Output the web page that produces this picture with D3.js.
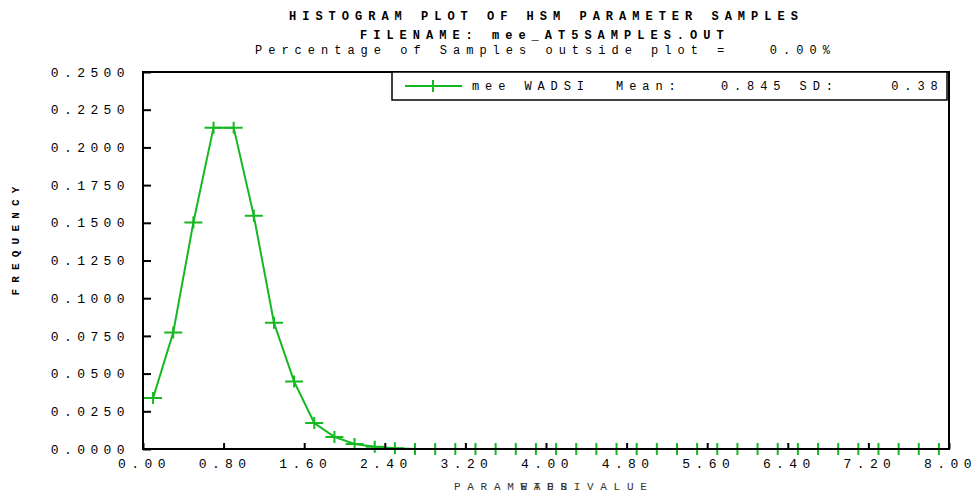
<!DOCTYPE html>
<html>
<head>
<meta charset="utf-8">
<script src="https://cdn.jsdelivr.net/npm/d3@7"></script>
<style>
  body { margin: 0; background: white; }
  svg { display: block; font-family: "Liberation Mono", "DejaVu Sans Mono", monospace; }
</style>
</head>
<body>
<div id="chart"></div>
<script>
// Data (bin centres, width 0.2)
var binCenters = [0.1, 0.3, 0.5, 0.7, 0.9, 1.1, 1.3, 1.5, 1.7, 1.9,
                  2.1, 2.3, 2.5, 2.7, 2.9, 3.1, 3.3, 3.5, 3.7, 3.9,
                  4.1, 4.3, 4.5, 4.7, 4.9, 5.1, 5.3, 5.5, 5.7, 5.9,
                  6.1, 6.3, 6.5, 6.7, 6.9, 7.1, 7.3, 7.5, 7.7, 7.9];
var frequency = [0.0338, 0.0773, 0.1502, 0.2131, 0.2131, 0.1546, 0.0837, 0.0447, 0.0172, 0.0080,
                 0.0033, 0.0015, 0.0005, 0, 0, 0, 0, 0, 0, 0,
                 0, 0, 0, 0, 0, 0, 0, 0, 0, 0,
                 0, 0, 0, 0, 0, 0, 0, 0, 0, 0];
var xTicks = [0, 0.8, 1.6, 2.4, 3.2, 4.0, 4.8, 5.6, 6.4, 7.2, 8.0];
var yTicks = [0, 0.025, 0.05, 0.075, 0.1, 0.125, 0.15, 0.175, 0.2, 0.225, 0.25];
var titleLines = ["HISTOGRAM PLOT OF HSM PARAMETER SAMPLES",
                  "FILENAME: mee_AT5SAMPLES.OUT",
                  "Percentage of Samples outside plot =   0.00%"];
var legendLabel = "mee WADSI  Mean:   0.845 SD:    0.38";

var W = 974, H = 497;
var green = "#16b822";
var plot = {left: 143, right: 949, top: 72, bottom: 449};

var x = d3.scaleLinear().domain([0, 8]).range([plot.left, plot.right]);
var y = d3.scaleLinear().domain([0, 0.25]).range([plot.bottom, plot.top]);

var svg = d3.select("#chart").append("svg")
    .attr("width", W)
    .attr("height", H);

// Titles
var titleY = [20, 39, 54];
var titleX = [289, 360, 255];
titleLines.forEach(function (t, i) {
  svg.append("text")
      .attr("x", titleX[i])
      .attr("y", titleY[i])
      .attr("xml:space", "preserve")
      .style("white-space", "pre")
      .style("font-size", "12px")
      .style("font-weight", i < 2 ? "bold" : "normal")
      .style("letter-spacing", "6px")
      .text(t);
});

// Series line + "+" markers
var line = d3.line()
    .x(function (d, i) { return x(binCenters[i]); })
    .y(function (d) { return y(d); });

svg.append("path")
    .datum(frequency)
    .attr("d", line)
    .attr("fill", "none")
    .attr("stroke", green)
    .attr("stroke-width", 2);

svg.selectAll(".marker")
    .data(frequency)
    .enter().append("path")
    .attr("class", "marker")
    .attr("d", function (d, i) {
      var cx = x(binCenters[i]), cy = y(d);
      return "M" + (cx - 9) + "," + cy + "H" + (cx + 9) +
             "M" + cx + "," + (cy - 6) + "V" + (cy + 6);
    })
    .attr("stroke", green)
    .attr("stroke-width", 2)
    .attr("fill", "none");

// Axes
var yAxis = d3.axisLeft(y)
    .tickValues(yTicks)
    .tickSize(-8)
    .tickPadding(12)
    .tickFormat(d3.format(".4f"));

var xAxis = d3.axisBottom(x)
    .tickValues(xTicks)
    .tickSize(-6)
    .tickPadding(10)
    .tickFormat(d3.format(".2f"));

var gy = svg.append("g")
    .attr("transform", "translate(" + plot.left + ",0)")
    .call(yAxis);
var gx = svg.append("g")
    .attr("transform", "translate(0," + plot.bottom + ")")
    .call(xAxis);

[gx, gy].forEach(function (g) {
  g.select(".domain").remove();
  g.selectAll(".tick line").attr("stroke", "#000").attr("stroke-width", 2);
  g.selectAll(".tick text")
      .attr("fill", "#000")
      .style("font-family", "Liberation Mono, monospace")
      .style("font-size", "13px")
      .style("letter-spacing", "5.4px");
});
gy.selectAll(".tick text").attr("dx", "-1");
gx.selectAll(".tick text").attr("dx", "1");

// Frame
svg.append("rect")
    .attr("x", plot.left)
    .attr("y", plot.top)
    .attr("width", plot.right - plot.left)
    .attr("height", plot.bottom - plot.top)
    .attr("fill", "none")
    .attr("stroke", "#000")
    .attr("stroke-width", 2);

// Axis titles
svg.append("text")
    .attr("transform", "translate(19,238) rotate(-90)")
    .attr("text-anchor", "middle")
    .style("font-size", "11px")
    .style("font-weight", "bold")
    .style("letter-spacing", "6.2px")
    .text("FREQUENCY");

svg.append("text")
    .attr("x", 454)
    .attr("y", 490)
    .attr("xml:space", "preserve")
    .style("white-space", "pre")
    .style("font-size", "11px")
    .style("letter-spacing", "6.7px")
    .attr("fill", "#333")
    .text("PARAMETER VALUE");

svg.append("text")
    .attr("x", 454 + 5 * 13.3)
    .attr("y", 490)
    .style("font-size", "11px")
    .style("letter-spacing", "6.7px")
    .attr("fill", "#333")
    .text("WADSI");

// Legend
var legend = svg.append("g");
legend.append("rect")
    .attr("x", 392)
    .attr("y", 72)
    .attr("width", 555)
    .attr("height", 28)
    .attr("fill", "white")
    .attr("stroke", "#000")
    .attr("stroke-width", 1.5);
legend.append("line")
    .attr("x1", 405).attr("x2", 462)
    .attr("y1", 86).attr("y2", 86)
    .attr("stroke", green)
    .attr("stroke-width", 2);
legend.append("line")
    .attr("x1", 433).attr("x2", 433)
    .attr("y1", 80).attr("y2", 92)
    .attr("stroke", green)
    .attr("stroke-width", 2);
legend.append("text")
    .attr("x", 472)
    .attr("y", 90)
    .attr("xml:space", "preserve")
    .style("white-space", "pre")
    .style("font-size", "12px")
    .style("letter-spacing", "5.9px")
    .text(legendLabel);
</script>
</body>
</html>
